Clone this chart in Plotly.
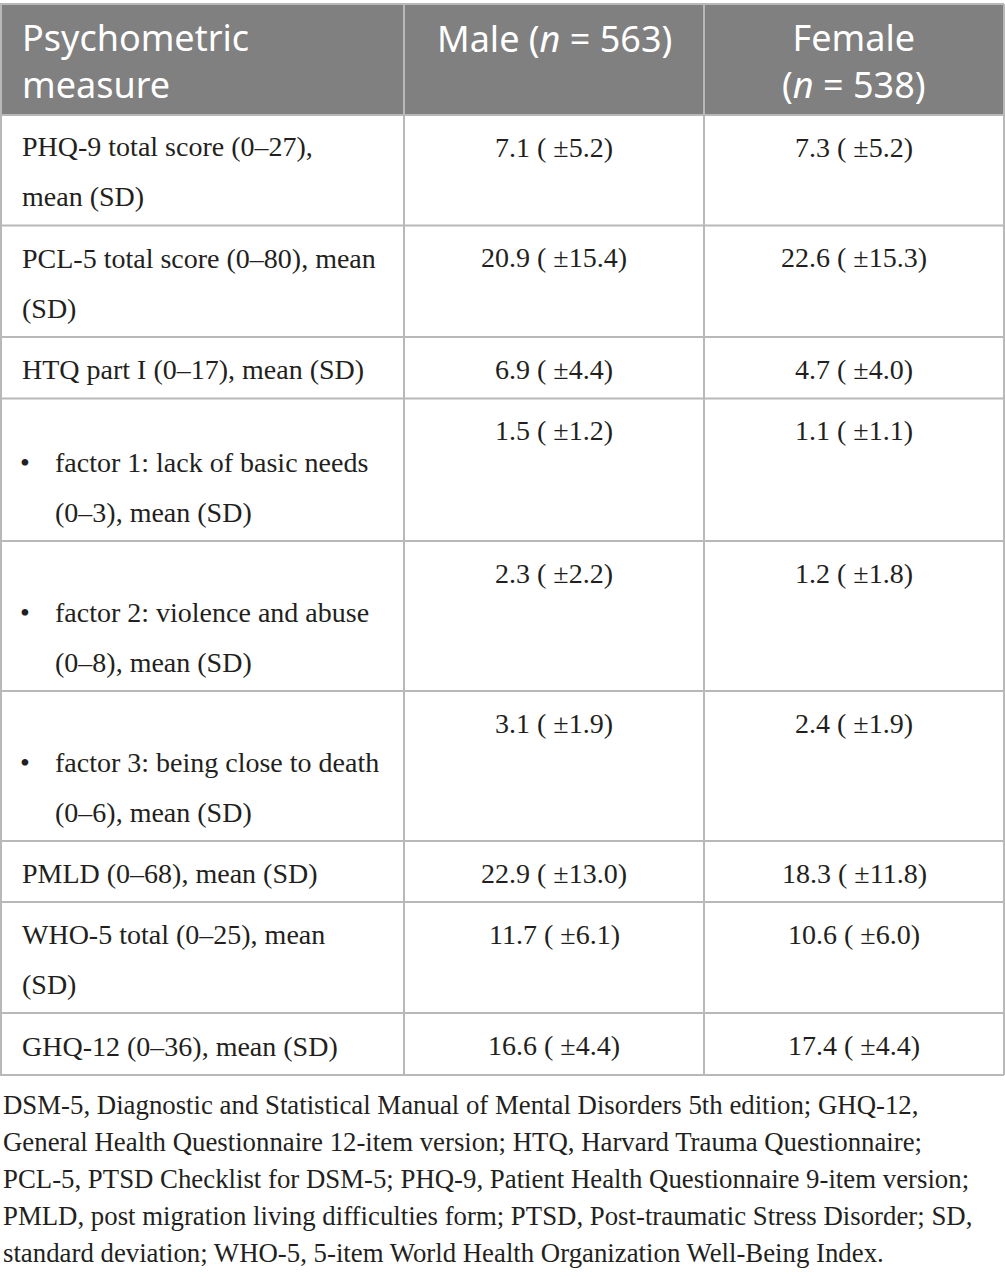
import plotly.graph_objects as go

# ---- data ----
header = ["Psychometric<br>measure", "Male (<i>n</i> = 563)", "Female<br>(<i>n</i> = 538)"]
measures = [
    "PHQ-9 total score (0–27),\nmean (SD)",
    "PCL-5 total score (0–80), mean\n(SD)",
    "HTQ part I (0–17), mean (SD)",
    "factor 1: lack of basic needs\n(0–3), mean (SD)",
    "factor 2: violence and abuse\n(0–8), mean (SD)",
    "factor 3: being close to death\n(0–6), mean (SD)",
    "PMLD (0–68), mean (SD)",
    "WHO-5 total (0–25), mean\n(SD)",
    "GHQ-12 (0–36), mean (SD)",
]
is_subitem = [False, False, False, True, True, True, False, False, False]
male_mean = [7.1, 20.9, 6.9, 1.5, 2.3, 3.1, 22.9, 11.7, 16.6]
male_sd = [5.2, 15.4, 4.4, 1.2, 2.2, 1.9, 13.0, 6.1, 4.4]
female_mean = [7.3, 22.6, 4.7, 1.1, 1.2, 2.4, 18.3, 10.6, 17.4]
female_sd = [5.2, 15.3, 4.0, 1.1, 1.8, 1.9, 11.8, 6.0, 4.4]
footnote = [
    "DSM-5, Diagnostic and Statistical Manual of Mental Disorders 5th edition; GHQ-12,",
    "General Health Questionnaire 12-item version; HTQ, Harvard Trauma Questionnaire;",
    "PCL-5, PTSD Checklist for DSM-5; PHQ-9, Patient Health Questionnaire 9-item version;",
    "PMLD, post migration living difficulties form; PTSD, Post-traumatic Stress Disorder; SD,",
    "standard deviation; WHO-5, 5-item World Health Organization Well-Being Index.",
]

# ---- layout constants (pixels) ----
W, H = 1005, 1277
col_edges = [1, 404, 704, 1004]
table_top = 4
header_height = 111
row_heights = [110.5, 111.5, 61.5, 142.5, 150, 150, 61, 111, 62]
line_step = 50
note_step = 37

body_font = dict(family="Liberation Serif", size=28, color="#231f20")
head_font = dict(family="Noto Sans", size=36, color="white")
note_font = dict(family="Liberation Serif", size=26.8, color="#231f20")
grid_color = "#b8b8b8"

fig = go.Figure()
shapes = []
annotations = []

header_bottom = table_top + header_height
bounds = [header_bottom]
for h in row_heights:
    bounds.append(bounds[-1] + h)

# header background
shapes.append(dict(type="rect", xref="x", yref="y", x0=col_edges[0], x1=col_edges[-1],
                   y0=table_top, y1=header_bottom, fillcolor="#808080", line_width=0, layer="below"))

# grid lines
for y in [table_top] + bounds:
    shapes.append(dict(type="line", xref="x", yref="y", x0=0, x1=col_edges[-1], y0=y, y1=y,
                       line=dict(color=grid_color, width=2)))
for x in col_edges:
    shapes.append(dict(type="line", xref="x", yref="y", x0=x, x1=x, y0=table_top, y1=bounds[-1],
                       line=dict(color=grid_color, width=2)))

# header text, one block per column
for c, txt in enumerate(header):
    n = txt.count("<br>") + 1
    y = table_top + 34 + (n - 1) * 1.3 * head_font["size"] / 2
    if c == 0:
        a = dict(x=col_edges[0] + 19, y=y, xanchor="left", align="left", text=txt)
    else:
        a = dict(x=(col_edges[c] + col_edges[c + 1]) / 2, y=y,
                 xanchor="center", align="center", text=txt)
    a.update(font=head_font)
    annotations.append(a)

# body rows
for i, label in enumerate(measures):
    top, bottom = bounds[i], bounds[i + 1]
    lines = label.split("\n")
    n = len(lines)
    x_text = col_edges[0] + (52 if is_subitem[i] else 19)
    for k, txt in enumerate(lines):
        y = bottom - 29 - line_step * (n - 1 - k)
        annotations.append(dict(x=x_text, y=y, xanchor="left", text=txt, font=body_font))
        if is_subitem[i] and k == 0:
            annotations.append(dict(x=col_edges[0] + 24, y=y, xanchor="center", text="•",
                                    font=body_font))
    vals = [f"{male_mean[i]:.1f} ( ±{male_sd[i]:.1f})",
            f"{female_mean[i]:.1f} ( ±{female_sd[i]:.1f})"]
    for c, txt in enumerate(vals):
        annotations.append(dict(x=(col_edges[c + 1] + col_edges[c + 2]) / 2, y=top + 32,
                                xanchor="center", text=txt, font=body_font))

# footnote
for k, txt in enumerate(footnote):
    annotations.append(dict(x=0.5, y=bounds[-1] + 29.5 + note_step * k, xanchor="left",
                            text=txt, font=note_font))

for a in annotations:
    a.update(xref="x", yref="y", yanchor="middle", showarrow=False)

fig.update_layout(
    width=W,
    height=H,
    margin=dict(l=0, r=0, t=0, b=0),
    paper_bgcolor="white",
    plot_bgcolor="white",
    showlegend=False,
    shapes=shapes,
    annotations=annotations,
    xaxis=dict(range=[0, W], visible=False, fixedrange=True),
    yaxis=dict(range=[H, 0], visible=False, fixedrange=True),
)

fig.write_html("out.html", config={"displayModeBar": False},
               post_script="document.body.style.margin='0';")
